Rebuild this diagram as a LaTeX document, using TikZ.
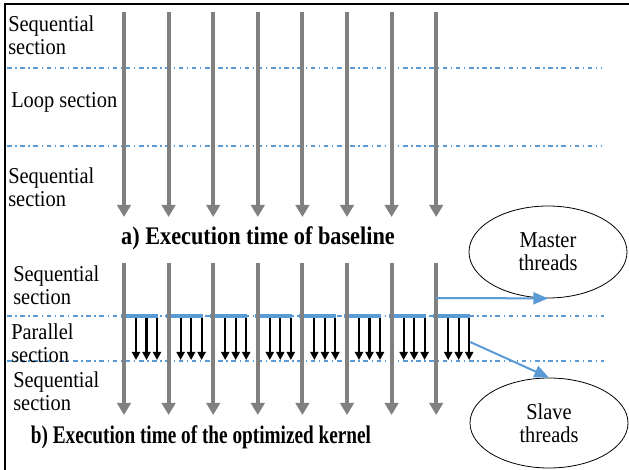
\documentclass[tikz,border=0pt]{standalone}
\usepackage{fontspec}
\setmainfont{Liberation Serif}
\newfontfamily\labelfont{Liberation Serif}[FakeStretch=0.9]
\newfontfamily\titleafont{Liberation Serif}[FakeStretch=0.88]
\newfontfamily\titlebfont{Liberation Serif}[FakeStretch=0.76]
\usepackage{tikz}
\usetikzlibrary{arrows.meta,positioning,shapes.geometric}
\usepackage{xcolor}
\colorlet{threadgray}{black!50}
\definecolor{myblue}{RGB}{91,155,213}
\tikzstyle{thread}=[draw=threadgray,line width=3pt,-{Triangle[length=9pt,width=10pt]}]
\tikzstyle{border}=[draw=myblue,line width=1pt,dash pattern=on 3.4pt off 2.7pt on 1.1pt off 2.7pt]
\tikzstyle{sync}=[draw=myblue,line width=3pt]
\tikzstyle{work}=[draw=black,line width=1.6pt,-{Triangle[length=6pt,width=6pt]}]
\tikzstyle{link}=[draw=myblue,line width=1.5pt,-{Triangle[length=11pt,width=9pt]}]
\tikzstyle{sect}=[anchor=west,align=left,inner sep=0,font=\labelfont\fontsize{17}{17.25}\selectfont]
\tikzstyle{role}=[ellipse,draw,line width=0.6pt,inner sep=0,align=center,minimum width=118.5pt,minimum height=69pt,font=\labelfont\fontsize{17}{17.25}\selectfont]

\begin{document}
\begin{tikzpicture}[x=0.75pt,y=-0.75pt]
\useasboundingbox (0,0) rectangle (629,470);
\clip (0,0) rectangle (629,470);
\draw[line width=1.5pt] (5,4) rectangle (650,490);

% section borders
\draw[border] (7,68) -- (602,68);
\draw[border] (7,146) -- (602,146);
\draw[border] (7,316) -- (604,316);
\draw[border] (7,361) -- (604,361);

% section names
\node[sect] (seqa1) at (8,35) {Sequential\\section};
\node[sect] (loop) at (11,102) {Loop section};
\node[sect] (seqa2) at (8,187) {Sequential\\section};
\node[sect] (seqb1) at (13,285) {Sequential\\section};
\node[sect] (par) at (11,343) {Parallel\\section};
\node[sect] (seqb2) at (13,391) {Sequential\\section};

% threads, with the forked work in the parallel section
\foreach \i in {0,...,7}{
  \pgfmathsetmacro{\tx}{124+44.6*\i}
  \draw[thread] (\tx,12) -- (\tx,217);
  \draw[sync] (\tx-3,316) -- (\tx+34,316);
  \foreach \d in {12,22.5,33}
    \draw[work] (\tx+\d,318) -- (\tx+\d,360);
  \draw[thread] (\tx,263) -- (\tx,415);
  \coordinate (t\i) at (\tx,298);
  \coordinate (f\i) at (\tx+34,342);
}

\node[font=\titleafont\bfseries\fontsize{19}{22}\selectfont] (capa) at (258,238) {a) Execution time of baseline};
\node[font=\titlebfont\bfseries\fontsize{19}{22}\selectfont] (capb) at (201,437) {b) Execution time of the optimized kernel};

\node[role] (master) at (548,252) {Master\\threads};
\node[role,minimum height=67.5pt] (slave) at (549,423) {Slave\\threads};

\draw[link] (t7) -- (master.south);
\draw[link] (f7) -- (slave.north);
\end{tikzpicture}
\end{document}
